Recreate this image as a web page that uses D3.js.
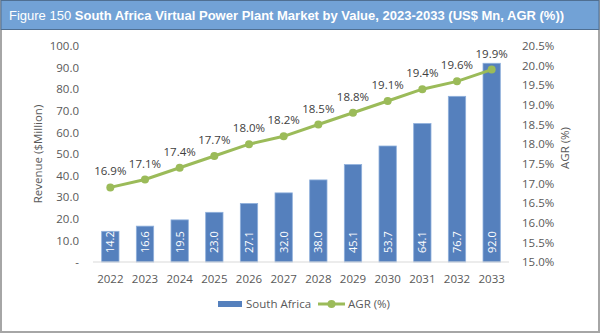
<!DOCTYPE html>
<html>
<head>
<meta charset="utf-8">
<script src="https://cdn.jsdelivr.net/npm/d3@7"></script>
<style>
body { margin: 0; background: #fff; }
text { font-family: "Open Sans", "Liberation Sans", sans-serif; }
</style>
</head>
<body>
<div id="chart"></div>
<script>
const years = ["2022","2023","2024","2025","2026","2027","2028","2029","2030","2031","2032","2033"];
const revenue = [14.2, 16.6, 19.5, 23.0, 27.1, 32.0, 38.0, 45.1, 53.7, 64.1, 76.7, 92.0];
const agr = [16.9, 17.1, 17.4, 17.7, 18.0, 18.2, 18.5, 18.8, 19.1, 19.4, 19.6, 19.9];
const leftTicks = [0, 10, 20, 30, 40, 50, 60, 70, 80, 90, 100];
const rightTicks = [15, 15.5, 16, 16.5, 17, 17.5, 18, 18.5, 19, 19.5, 20, 20.5];

const width = 600, height = 333;
const margin = { top: 46, right: 91, bottom: 71, left: 93 };
const plotWidth = width - margin.left - margin.right;
const plotHeight = height - margin.top - margin.bottom;

const svg = d3.select("#chart")
  .append("svg")
  .attr("width", width)
  .attr("height", height);

// frame and title bar
svg.append("rect")
  .attr("x", 1).attr("y", 1)
  .attr("width", width - 2).attr("height", height - 2)
  .attr("fill", "#fff")
  .attr("stroke", "#a6a6a6")
  .attr("stroke-width", 2);

svg.append("rect")
  .attr("x", 1).attr("y", 0.5)
  .attr("width", width - 2).attr("height", 29)
  .attr("fill", "#72a2d6")
  .attr("stroke", "#4f6f92");

const title = svg.append("text")
  .attr("x", 9)
  .attr("y", 19.5)
  .attr("fill", "#fff")
  .attr("font-size", "13px")
  .style("font-family", "'Liberation Sans', Arial, sans-serif");
title.append("tspan").text("Figure 150 ");
title.append("tspan").attr("font-weight", "bold")
  .text("South Africa Virtual Power Plant Market by Value, 2023-2033 (US$ Mn, AGR (%))");

const g = svg.append("g")
  .attr("transform", `translate(${margin.left}, ${margin.top})`);

const xScale = d3.scaleBand()
  .domain(years)
  .range([0, plotWidth])
  .paddingInner(0.5)
  .paddingOuter(0.25);

const yScale = d3.scaleLinear()
  .domain([0, 100])
  .range([plotHeight, 0]);

const y2Scale = d3.scaleLinear()
  .domain([15, 20.5])
  .range([plotHeight, 0]);

// bars
g.selectAll(".bar")
  .data(years)
  .enter()
  .append("rect")
  .attr("class", "bar")
  .attr("x", d => xScale(d))
  .attr("width", xScale.bandwidth())
  .attr("y", (d, i) => yScale(revenue[i]))
  .attr("height", (d, i) => plotHeight - yScale(revenue[i]))
  .attr("fill", "#5580bd")
  .attr("stroke", "#8fb0dc")
  .attr("stroke-width", 0.8);

// bar values
g.selectAll(".bar-value")
  .data(years)
  .enter()
  .append("text")
  .attr("class", "bar-value")
  .attr("transform", d => `translate(${xScale(d) + xScale.bandwidth() / 2 + 4}, ${plotHeight - 9}) rotate(-90)`)
  .attr("fill", "#fff")
  .attr("font-size", "11px")
  .text((d, i) => revenue[i].toFixed(1));

// x axis line
g.append("line")
  .attr("x1", 0).attr("x2", plotWidth)
  .attr("y1", plotHeight).attr("y2", plotHeight)
  .attr("stroke", "#d9d9d9")
  .attr("stroke-width", 1);

const xAxis = g.append("g")
  .attr("transform", `translate(0, ${plotHeight})`)
  .call(d3.axisBottom(xScale).tickSize(0).tickPadding(13));
xAxis.select(".domain").remove();
xAxis.selectAll("text").attr("font-size", "11.5px").attr("fill", "#595959")
  .style("font-family", "'Open Sans', sans-serif");

const yAxis = g.append("g")
  .call(d3.axisLeft(yScale).tickValues(leftTicks).tickSize(0).tickPadding(14)
    .tickFormat(d => d === 0 ? "-" : d.toFixed(1)));
yAxis.select(".domain").remove();
yAxis.selectAll("text").attr("font-size", "11.5px").attr("fill", "#595959")
  .style("font-family", "'Open Sans', sans-serif");

const y2Axis = g.append("g")
  .attr("transform", `translate(${plotWidth}, 0)`)
  .call(d3.axisRight(y2Scale).tickValues(rightTicks).tickSize(0).tickPadding(13)
    .tickFormat(d => d.toFixed(1) + "%"));
y2Axis.select(".domain").remove();
y2Axis.selectAll("text").attr("font-size", "11.5px").attr("fill", "#595959")
  .style("font-family", "'Open Sans', sans-serif");

// axis titles
svg.append("text")
  .attr("transform", `translate(42, ${margin.top + plotHeight / 2}) rotate(-90)`)
  .attr("text-anchor", "middle")
  .attr("font-size", "11.5px")
  .attr("fill", "#595959")
  .text("Revenue ($Million)");

svg.append("text")
  .attr("transform", `translate(569, ${margin.top + plotHeight / 2 - 6}) rotate(-90)`)
  .attr("text-anchor", "middle")
  .attr("font-size", "11.5px")
  .attr("fill", "#595959")
  .text("AGR (%)");

// AGR line
const cx = d => xScale(d) + xScale.bandwidth() / 2;
const line = d3.line()
  .x(d => cx(d))
  .y((d, i) => y2Scale(agr[i]));

g.append("path")
  .datum(years)
  .attr("d", line)
  .attr("fill", "none")
  .attr("stroke", "#9bbb59")
  .attr("stroke-width", 3);

g.selectAll(".dot")
  .data(years)
  .enter()
  .append("circle")
  .attr("class", "dot")
  .attr("cx", d => cx(d))
  .attr("cy", (d, i) => y2Scale(agr[i]))
  .attr("r", 4)
  .attr("fill", "#9bbb59");

g.selectAll(".agr-value")
  .data(years)
  .enter()
  .append("text")
  .attr("class", "agr-value")
  .attr("x", d => cx(d))
  .attr("y", (d, i) => y2Scale(agr[i]) - 12)
  .attr("text-anchor", "middle")
  .attr("font-size", "11.5px")
  .attr("fill", "#404040")
  .text((d, i) => agr[i].toFixed(1) + "%");

// legend
const legend = svg.append("g").attr("transform", "translate(218, 304)");
legend.append("rect")
  .attr("x", 0).attr("y", -3)
  .attr("width", 24).attr("height", 6)
  .attr("fill", "#5580bd");
legend.append("text")
  .attr("x", 28).attr("y", 4)
  .attr("font-size", "11.5px")
  .attr("fill", "#595959")
  .text("South Africa");
legend.append("line")
  .attr("x1", 100).attr("x2", 127)
  .attr("y1", 0).attr("y2", 0)
  .attr("stroke", "#9bbb59")
  .attr("stroke-width", 3);
legend.append("circle")
  .attr("cx", 113.5).attr("cy", 0).attr("r", 4)
  .attr("fill", "#9bbb59");
legend.append("text")
  .attr("x", 130).attr("y", 4)
  .attr("font-size", "11.5px")
  .attr("fill", "#595959")
  .text("AGR (%)");
</script>
</body>
</html>
